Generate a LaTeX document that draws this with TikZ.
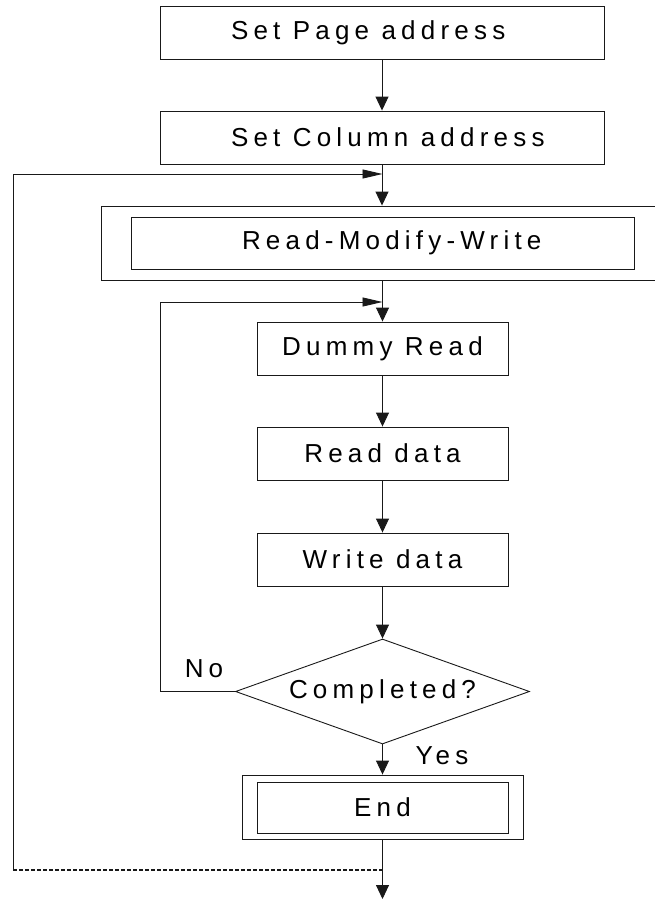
\documentclass[tikz,border=0pt]{standalone}
\usepackage{fontspec}
\setmainfont{Liberation Sans}[LetterSpace=20]
\usetikzlibrary{arrows.meta,shapes.geometric}
\definecolor{LineColor}{RGB}{25,25,25}
\definecolor{TextColor}{RGB}{0,0,0}
\newcommand{\flowleft}[2]{\makebox[#1][l]{#2}}

\tikzset{
  stepbox/.style={draw=LineColor,line width=0.9pt,minimum height=53pt,inner sep=0pt,text=TextColor},
  downarrow/.style={-{Triangle[length=14pt,width=13pt]},line width=0.9pt,draw=LineColor},
  backarrow/.style={-{Triangle[length=20pt,width=9pt]},line width=0.9pt,draw=LineColor},
}

\begin{document}
\begin{tikzpicture}[x=1pt,y=-1pt,font=\fontsize{26}{30}\selectfont]
\useasboundingbox (0,0) rectangle (655,902);

\node[stepbox,minimum width=444pt] (page) at (382,32.5) {\flowleft{302pt}{Set Page address}};

\node[stepbox,minimum width=444pt] (column) at (382,137.5) {\flowleft{302pt}{Set Column address}};

\node[stepbox,minimum width=560pt,minimum height=74pt] (rmwframe) at (381,243) {};
\node[stepbox,minimum width=503pt,minimum height=52pt] (rmw) at (382.5,243) {\flowleft{281pt}{Read-Modify-Write}};

\node[stepbox,minimum width=251pt] (dummy) at (382.5,348.5) {Dummy Read};

\node[stepbox,minimum width=251pt] (readd) at (382.5,453.5) {Read data};

\node[stepbox,minimum width=251pt] (writed) at (382.5,559.5) {Write data};

\node[draw=LineColor,line width=0.9pt,diamond,aspect=2.8,minimum width=294pt,minimum height=105pt,inner sep=0pt,text=TextColor] (cmp) at (382.5,691.5) {Completed?};

\node[stepbox,minimum width=281pt,minimum height=64pt] (endframe) at (382.5,807) {};
\node[stepbox,minimum width=251pt,minimum height=51pt] (endbox) at (382.5,807.5) {End};

\node[text=TextColor] (no) at (204,669) {No};
\node[text=TextColor] (yes) at (442,756) {Yes};

\coordinate (join1) at (382.5,174);
\coordinate (join2) at (382.5,302);
\coordinate (join3) at (382.5,870);
\coordinate (bend1) at (13,870);
\coordinate (bend2) at (160,302);
\coordinate (exit) at (382.5,899);

\draw[downarrow] (page) to (column);
\draw[downarrow] (column.south) to (column.south |- rmwframe.north);
\draw[downarrow] (rmw.south |- rmwframe.south) to (dummy.north);
\draw[downarrow] (dummy) to (readd);
\draw[downarrow] (readd) to (writed);
\draw[downarrow] (writed) to (cmp.north);
\draw[downarrow] (cmp.south) to (endframe.north);
\draw[downarrow] (endframe.south) to (exit);

\draw[backarrow] (cmp.west) -| (bend2) -- (join2);
\draw[line width=1.3pt,draw=LineColor,dash pattern=on 4pt off 2pt] (join3) -- (bend1);
\draw[backarrow] (bend1) |- (join1);

\end{tikzpicture}
\end{document}
